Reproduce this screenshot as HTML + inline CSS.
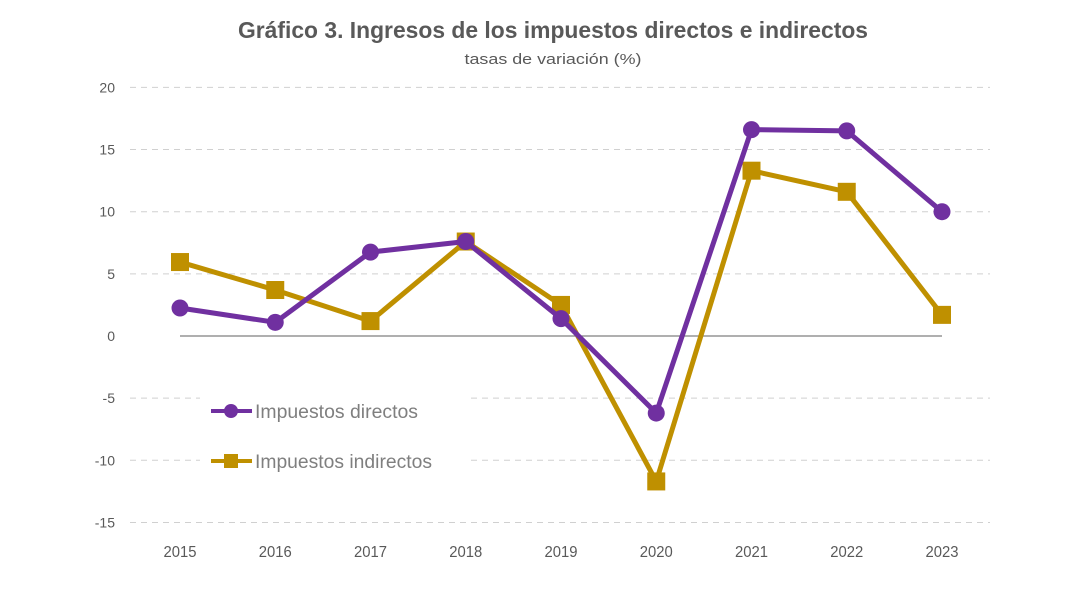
<!DOCTYPE html>
<html><head><meta charset="utf-8"><style>
body{margin:0;background:#fff;}
svg{display:block;font-family:"Liberation Sans",sans-serif;}
</style></head><body>
<svg id="chart" width="1071" height="589" viewBox="0 0 1071 589">
<text x="553" y="38" text-anchor="middle" font-size="23" font-weight="bold" fill="#595959" textLength="630" lengthAdjust="spacingAndGlyphs">Gráfico 3. Ingresos de los impuestos directos e indirectos</text>
<text x="553" y="64" text-anchor="middle" font-size="15" fill="#595959" textLength="177" lengthAdjust="spacingAndGlyphs">tasas de variación (%)</text>
<g id="grid"></g><g id="series"></g>
<g>
<rect x="200" y="390" width="270" height="90" fill="#fff"/>
<line x1="211" y1="411" x2="252" y2="411" stroke="#7030A0" stroke-width="4"/>
<circle cx="231" cy="411" r="7" fill="#7030A0"/>
<text x="255" y="418" font-size="19" fill="#7f7f7f" textLength="163" lengthAdjust="spacingAndGlyphs">Impuestos directos</text>
<line x1="211" y1="461" x2="252" y2="461" stroke="#BF9000" stroke-width="4"/>
<rect x="224" y="454" width="14" height="14" fill="#BF9000"/>
<text x="255" y="468" font-size="19" fill="#7f7f7f" textLength="177" lengthAdjust="spacingAndGlyphs">Impuestos indirectos</text>
</g>
</svg>
<script>
const years=["2015","2016","2017","2018","2019","2020","2021","2022","2023"];
const directos=[2.25,1.1,6.75,7.6,1.4,-6.2,16.6,16.5,10.0];
const indirectos=[5.95,3.7,1.2,7.6,2.5,-11.7,13.3,11.6,1.7];
const yTicks=[20,15,10,5,0,-5,-10,-15];
const NS="http://www.w3.org/2000/svg";
const x=i=>180+i*95.25;
const y=v=>336-v*12.43;
function mk(tag,attrs,parent){const e=document.createElementNS(NS,tag);for(const k in attrs)e.setAttribute(k,attrs[k]);parent.appendChild(e);return e;}
const grid=document.getElementById('grid'),ser=document.getElementById('series');
yTicks.forEach(t=>{
 if(t!==0){const l=mk('line',{x1:130,x2:990,y1:y(t),y2:y(t),stroke:'#d0d0d0','stroke-dasharray':'6,5','stroke-width':1},grid);
 
 }
 const tx=mk('text',{x:115,y:y(t)+5,'text-anchor':'end','font-size':14,fill:'#595959'},grid);tx.textContent=t;
 
 
});
const z=mk('line',{x1:x(0),x2:x(8),y1:y(0),y2:y(0),stroke:'#7f7f7f','stroke-width':1.3},grid);


years.forEach((yr,i)=>{const t=mk('text',{x:x(i),y:557,'text-anchor':'middle','font-size':16,fill:'#595959',textLength:33,lengthAdjust:'spacingAndGlyphs'},grid);t.textContent=yr;
 
 });
function draw(vals,col,shape,name){
 const p=mk('polyline',{points:vals.map((v,i)=>x(i)+','+y(v)).join(' '),fill:'none',stroke:col,'stroke-width':5,'stroke-linejoin':'round'},ser);
 
 
 vals.forEach((v,i)=>{let m;
  if(shape==='c')m=mk('circle',{cx:x(i),cy:y(v),r:8.5,fill:col},ser);
  else m=mk('rect',{x:x(i)-9,y:y(v)-9,width:18,height:18,fill:col},ser);
  
  });
}
draw(indirectos,'#BF9000','s','indirectos');
draw(directos,'#7030A0','c','directos');
</script>
</body></html>
